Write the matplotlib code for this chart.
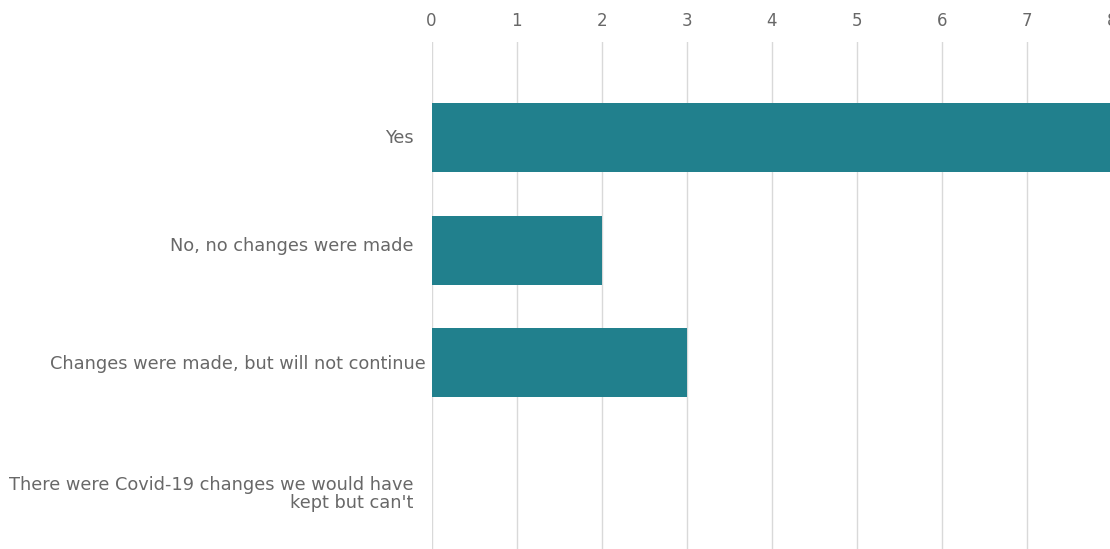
import matplotlib
matplotlib.use("Agg")
import matplotlib.pyplot as plt

categories = ["Yes", "No, no changes were made", "Changes were made, but will not continue",
              "There were Covid-19 changes we would have\nkept but can't"]
counts = [8, 2, 3, 0]
ticks = [0, 1, 2, 3, 4, 5, 6, 7, 8]

bar_color = "#21808d"
text_color = "#686868"
grid_color = "#d9d9d9"

plt.rcParams["font.family"] = ["DejaVu Sans"]

fig = plt.figure(figsize=(11.10, 5.49), dpi=100)
W, H = 1110, 549
# axis area in pixels: x from 431.5 (zero) to 1112 (eight), y from 42 down past the bottom
left, right = 431.5, 1112
top = 42
unit_y = 112.5
first_center = 137.8
bottom_px = first_center + 3 * unit_y + 0.72 * unit_y
ax = fig.add_axes([left / W, 1 - bottom_px / H, (right - left) / W, (bottom_px - top) / H])

y = list(range(len(categories)))
ax.barh(y, counts, height=0.61, color=bar_color, zorder=3)

ax.set_xlim(0, 8)
ax.set_ylim(3.72, -(first_center - top) / unit_y)

ax.xaxis.tick_top()
ax.set_xticks(ticks)
ax.set_xticklabels([str(t) for t in ticks], fontsize=12, color=text_color)
ax.tick_params(axis="x", length=0, pad=9)
ax.grid(axis="x", color=grid_color, linewidth=1, zorder=0)
ax.set_yticks([])
for s in ax.spines.values():
    s.set_visible(False)

# category labels, right aligned against the zero line
label_pad = [13, 13, 4, 13]
label_shift = [0, 3, -1, -13.5]
for i, (name, pad, dy) in enumerate(zip(categories, label_pad, label_shift)):
    ax.annotate(name, xy=(0, i), xytext=(-pad, dy), textcoords="offset points",
                ha="right", va="center", fontsize=12.8, color=text_color,
                multialignment="right", linespacing=1.0, annotation_clip=False)

fig.savefig("out.png", dpi=100)
